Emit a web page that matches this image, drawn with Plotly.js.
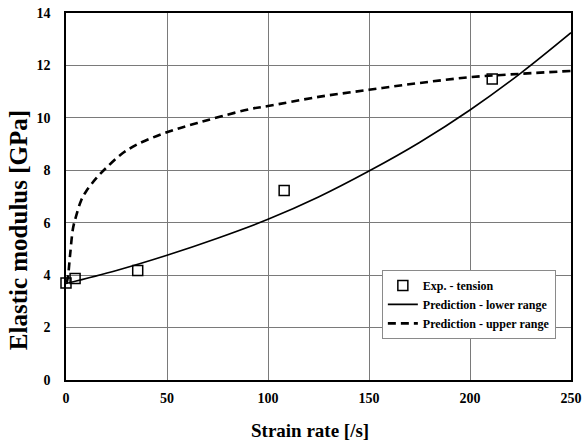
<!DOCTYPE html>
<html>
<head>
<meta charset="utf-8">
<script src="https://cdn.plot.ly/plotly-3.0.1.min.js"></script>
<style>
  html, body { margin: 0; padding: 0; background: #fff; }
  #chart { width: 582px; height: 441px; }
</style>
</head>
<body>
<div id="chart"></div>
<script>
// Measured elastic modulus in tension
const expRate = [0, 4.5, 35.5, 108, 211];
const expModulus = [3.7, 3.87, 4.18, 7.23, 11.48];

// Prediction, lower range
const lowRate = [0, 25, 50, 75, 100, 125, 150, 175, 200, 225, 250];
const lowModulus = [3.68, 4.18, 4.76, 5.41, 6.13, 6.98, 7.97, 9.06, 10.3, 11.7, 13.25];

// Prediction, upper range
const upRate = [0.3, 1, 2, 3.5, 5, 7.5, 10, 15, 20, 27.5, 35, 45, 55, 65, 77, 92, 100, 125, 150, 175, 200, 225, 250];
const upModulus = [3.7, 3.96, 4.75, 5.8, 6.25, 6.85, 7.2, 7.7, 8.1, 8.62, 8.98, 9.31, 9.58, 9.8, 10.06, 10.35, 10.45, 10.8, 11.07, 11.33, 11.55, 11.68, 11.79];

const xTicks = [0, 50, 100, 150, 200, 250];
const yTicks = [0, 2, 4, 6, 8, 10, 12, 14];

const serif = 'Liberation Serif';
const bold = v => '<b>' + v + '</b>';

const traces = [
  {
    x: lowRate, y: lowModulus, type: 'scatter', mode: 'lines',
    name: bold('Prediction - lower range'),
    line: { color: '#000', width: 1.6, shape: 'spline' },
    legendrank: 2
  },
  {
    x: upRate, y: upModulus, type: 'scatter', mode: 'lines',
    name: bold('Prediction - upper range'),
    line: { color: '#000', width: 2.6, dash: '8px,5px', shape: 'spline' },
    legendrank: 3
  },
  {
    x: expRate, y: expModulus, type: 'scatter', mode: 'markers',
    name: bold('Exp. - tension'),
    cliponaxis: false,
    marker: { symbol: 'square-open', size: 10, color: '#000', line: { color: '#000', width: 1.5 } },
    legendrank: 1
  }
];

const layout = {
  width: 582, height: 441,
  margin: { l: 66, r: 11, t: 13, b: 60.5 },
  paper_bgcolor: '#fff', plot_bgcolor: '#fff',
  font: { family: serif, color: '#000' },
  showlegend: true,
  legend: {
    x: 0.97, y: 0.3, xanchor: 'right', yanchor: 'top',
    bgcolor: '#fff', bordercolor: '#8a8a8a', borderwidth: 1,
    font: { family: serif, size: 12, color: '#000' },
    tracegroupgap: 0
  },
  xaxis: {
    range: [0, 250], tickvals: xTicks, ticktext: xTicks.map(bold),
    showgrid: true, gridcolor: '#7a7a7a', gridwidth: 1,
    zeroline: false, showline: true, linecolor: '#000', linewidth: 1.6, mirror: true,
    ticks: '', ticklabelstandoff: 5,
    tickfont: { family: serif, size: 14, color: '#000' }
  },
  yaxis: {
    range: [0, 14], tickvals: yTicks, ticktext: yTicks.map(bold),
    showgrid: true, gridcolor: '#7a7a7a', gridwidth: 1,
    zeroline: false, showline: true, linecolor: '#000', linewidth: 1.6, mirror: true,
    ticks: '', ticklabelstandoff: 11,
    tickfont: { family: serif, size: 14, color: '#000' }
  },
  annotations: [
    {
      text: bold('Strain rate [/s]'), xref: 'paper', yref: 'paper',
      x: -0.016 + (310 - 66) / 504.7 + 0.016, y: -(431 - 380.5) / 367.5,
      xanchor: 'center', yanchor: 'middle', showarrow: false,
      font: { family: serif, size: 19, color: '#000' }
    },
    {
      text: bold('Elastic modulus [GPa]'), xref: 'paper', yref: 'paper',
      x: (18.5 - 66) / 504.7, y: (380.5 - 230) / 367.5, textangle: -90,
      xanchor: 'center', yanchor: 'middle', showarrow: false,
      font: { family: serif, size: 25, color: '#000' }
    }
  ]
};

Plotly.newPlot('chart', traces, layout, { displayModeBar: false, staticPlot: true });
</script>
</body>
</html>
